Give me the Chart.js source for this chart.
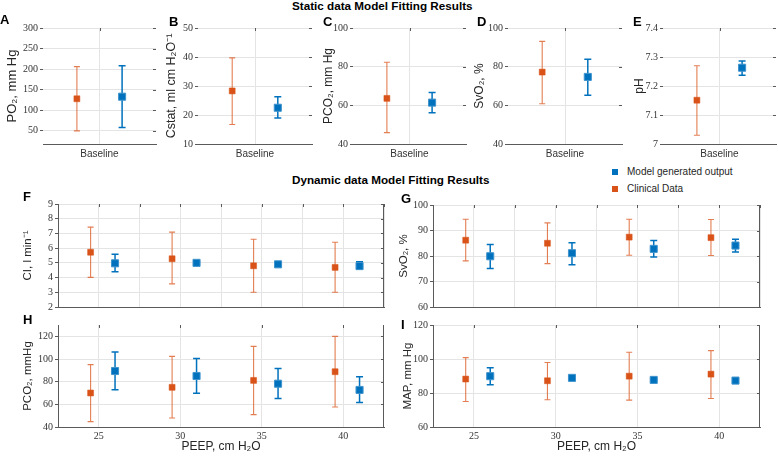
<!DOCTYPE html>
<html>
<head>
<meta charset="utf-8">
<script src="https://cdn.jsdelivr.net/npm/chart.js@4.4.1/dist/chart.umd.min.js"></script>
<style>
  body { margin: 0; width: 778px; height: 456px; position: relative; overflow: hidden; background: #fff;
         font-family: 'Liberation Sans', Arial, sans-serif; color: #000; }
  .box { position: absolute; }
  .txt { position: absolute; line-height: 1; white-space: nowrap; z-index: 2; }
  .head { font-weight: bold; font-size: 11.7px; }
  .letter { font-weight: bold; font-size: 13px; }
  .leg { font-size: 10px; color: #262626; }
  .sq { position: absolute; width: 6px; height: 6px; z-index: 2; }
</style>
</head>
<body>

<div class="txt head" style="left:292px; top:0px">Static data Model Fitting Results</div>
<div class="txt head" style="left:292px; top:174px">Dynamic data Model Fitting Results</div>

<div class="txt letter" style="left:0px; top:12.5px">A</div>
<div class="txt letter" style="left:169px; top:15px">B</div>
<div class="txt letter" style="left:323px; top:15px">C</div>
<div class="txt letter" style="left:477px; top:15px">D</div>
<div class="txt letter" style="left:633px; top:15px">E</div>
<div class="txt letter" style="left:23px; top:190px">F</div>
<div class="txt letter" style="left:401px; top:192px">G</div>
<div class="txt letter" style="left:23px; top:313px">H</div>
<div class="txt letter" style="left:401px; top:317.5px">I</div>

<div class="sq" style="left:612px; top:168.5px; background:#0072BD"></div>
<div class="txt leg" style="left:627px; top:167px">Model generated output</div>
<div class="sq" style="left:612px; top:186px; background:#D95319"></div>
<div class="txt leg" style="left:627px; top:184px">Clinical Data</div>

<script>
// ---- data ----
const baselineLabel = ['Baseline'];
const baselineTick = [1];
const clinicalBaseX = [0.8];
const modelBaseX = [1.2];

// A: PO2
const po2Clinical = [128], po2ClinicalLo = [50], po2ClinicalHi = [206];
const po2Model = [133], po2ModelLo = [58], po2ModelHi = [208];
const po2Ticks = [50, 100, 150, 200, 250, 300];
// B: Cstat
const cstatClinical = [28.3], cstatClinicalLo = [16.7], cstatClinicalHi = [39.7];
const cstatModel = [22.5], cstatModelLo = [19.0], cstatModelHi = [26.3];
const cstatTicks = [10, 20, 30, 40, 50];
// C: PCO2 (static)
const pco2sClinical = [63.6], pco2sClinicalLo = [45.9], pco2sClinicalHi = [82.3];
const pco2sModel = [61.4], pco2sModelLo = [56.2], pco2sModelHi = [66.7];
const pco2sTicks = [40, 60, 80, 100];
// D: SvO2 (static)
const svo2sClinical = [77.2], svo2sClinicalLo = [60.8], svo2sClinicalHi = [93.1];
const svo2sModel = [74.7], svo2sModelLo = [65.2], svo2sModelHi = [83.8];
const svo2sTicks = [40, 60, 80, 100];
// E: pH
const phClinical = [7.151], phClinicalLo = [7.03], phClinicalHi = [7.27];
const phModel = [7.263], phModelLo = [7.237], phModelHi = [7.286];
const phTicks = [7, 7.1, 7.2, 7.3, 7.4];

// dynamic panels, PEEP steps
const peepTicks = [25, 30, 35, 40];
const peepGrid = [22.5, 25, 27.5, 30, 32.5, 35, 37.5, 40, 42.5];
const clinicalPeep = [24.5, 29.5, 34.5, 39.5];
const modelPeep = [26, 31, 36, 41];

// F: CI
const ciClinical = [5.72, 5.28, 4.80, 4.69];
const ciClinicalLo = [4.01, 3.57, 3.00, 3.00];
const ciClinicalHi = [7.43, 7.09, 6.60, 6.40];
const ciModel = [4.97, 5.00, 4.90, 4.78];
const ciModelLo = [4.39, 4.95, 4.84, 4.60];
const ciModelHi = [5.58, 5.05, 4.96, 5.08];
const ciTicks = [2, 3, 4, 5, 6, 7, 8, 9];
// G: SvO2
const svo2Clinical = [86.2, 85.0, 87.4, 87.2];
const svo2ClinicalLo = [78.1, 77.0, 80.3, 80.2];
const svo2ClinicalHi = [94.4, 93.0, 94.4, 94.3];
const svo2Model = [79.9, 81.1, 82.8, 84.1];
const svo2ModelLo = [75.1, 76.6, 79.6, 81.6];
const svo2ModelHi = [84.5, 85.2, 86.1, 86.6];
const svo2Ticks = [60, 70, 80, 90, 100];
// H: PCO2
const pco2Clinical = [70.0, 75.0, 81.1, 88.8];
const pco2ClinicalLo = [44.7, 48.0, 50.9, 57.7];
const pco2ClinicalHi = [95.0, 102.3, 111.1, 120.0];
const pco2Model = [89.4, 85.0, 78.2, 72.7];
const pco2ModelLo = [72.9, 69.7, 65.2, 61.7];
const pco2ModelHi = [106.2, 100.5, 91.7, 84.4];
const pco2Ticks = [40, 60, 80, 100, 120];
// I: MAP
const mapClinical = [88.2, 87.2, 89.9, 91.1];
const mapClinicalLo = [75.0, 76.0, 75.8, 76.8];
const mapClinicalHi = [100.8, 97.9, 104.0, 104.9];
const mapModel = [89.9, 88.9, 87.7, 87.3];
const mapModelLo = [84.8, 88.4, 87.2, 86.8];
const mapModelHi = [94.8, 89.4, 88.2, 87.8];
const mapTicks = [60, 80, 100, 120];

// ---- styling ----
const serif = "'Liberation Serif', 'Times New Roman', serif";
const sans = "'Liberation Sans', Arial, sans-serif";
const orange = '#D95319';
const blue = '#0072BD';
const gridColor = '#e4e4e4';
const axisColor = '#5a5a5a';

// vertical error bars with caps, drawn under each dataset's markers
const errorBars = {
  id: 'errorBars',
  beforeDatasetDraw(chart, args) {
    const ds = chart.data.datasets[args.index];
    if (!ds.lo) return;
    const y = chart.scales.y;
    const ctx = chart.ctx;
    ctx.save();
    ctx.strokeStyle = ds.barColor;
    ctx.lineWidth = ds.barWidth;
    args.meta.data.forEach(function (pt, i) {
      const hiPx = y.getPixelForValue(ds.hi[i]);
      const loPx = y.getPixelForValue(ds.lo[i]);
      const c = ds.cap;
      ctx.beginPath();
      ctx.moveTo(pt.x, hiPx); ctx.lineTo(pt.x, loPx);
      ctx.moveTo(pt.x - c, hiPx); ctx.lineTo(pt.x + c, hiPx);
      ctx.moveTo(pt.x - c, loPx); ctx.lineTo(pt.x + c, loPx);
      ctx.stroke();
    });
    ctx.restore();
  }
};

// little inward ticks on the right and top edges, and the right box line
const edgeTicks = {
  id: 'edgeTicks',
  afterDraw(chart, args, opts) {
    const a = chart.chartArea;
    const x = chart.scales.x, y = chart.scales.y;
    const ctx = chart.ctx;
    ctx.save();
    ctx.strokeStyle = axisColor;
    ctx.lineWidth = 1;
    ctx.beginPath();
    y.ticks.forEach(function (t) {
      const p = Math.round(y.getPixelForValue(t.value)) + 0.5;
      ctx.moveTo(a.right, p); ctx.lineTo(a.right - 3, p);
    });
    x.ticks.forEach(function (t) {
      const p = Math.round(x.getPixelForValue(t.value)) + 0.5;
      ctx.moveTo(p, a.top); ctx.lineTo(p, a.top + 3);
    });
    if (opts.box) {
      ctx.moveTo(Math.round(a.right) - 0.5, a.top);
      ctx.lineTo(Math.round(a.right) - 0.5, a.bottom);
    }
    ctx.stroke();
    ctx.restore();
  }
};

function drawPanel(p) {
  const padTop = 10, padRight = 5;
  const div = document.createElement('div');
  div.className = 'box';
  div.style.left = (p.l - p.yw) + 'px';
  div.style.top = (p.t - padTop) + 'px';
  div.style.width = (p.r - p.l + p.yw + padRight) + 'px';
  div.style.height = (p.b - p.t + padTop + p.xh) + 'px';
  const cv = document.createElement('canvas');
  div.appendChild(cv);
  document.body.appendChild(div);

  new Chart(cv, {
    type: 'scatter',
    data: {
      datasets: [{
        label: 'Clinical Data',
        data: p.cx.map(function (x, i) { return { x: x, y: p.c[i] }; }),
        lo: p.cLo, hi: p.cHi,
        barColor: 'rgba(217,83,25,0.75)', barWidth: 1.1, cap: 3,
        pointStyle: 'rect', pointRadius: 4.2,
        backgroundColor: orange, borderColor: orange, borderWidth: 0.5
      }, {
        label: 'Model generated output',
        data: p.mx.map(function (x, i) { return { x: x, y: p.m[i] }; }),
        lo: p.mLo, hi: p.mHi,
        barColor: blue, barWidth: 1.5, cap: 3.5,
        pointStyle: 'rect', pointRadius: 5,
        backgroundColor: blue, borderColor: '#3f93cc', borderWidth: 1
      }]
    },
    options: {
      responsive: true,
      maintainAspectRatio: false,
      animation: false,
      layout: { padding: { top: padTop, right: padRight, left: 0, bottom: 0 } },
      plugins: {
        legend: { display: false },
        tooltip: { enabled: false },
        edgeTicks: { box: p.dyn }
      },
      scales: {
        x: {
          type: 'linear', min: p.xMin, max: p.xMax,
          afterBuildTicks: function (s) { s.ticks = p.xTicks.map(function (v) { return { value: v }; }); },
          afterFit: function (s) { s.height = p.xh; },
          grid: { color: gridColor, drawTicks: false },
          border: { display: true, color: axisColor },
          ticks: {
            display: !!p.xLabels, autoSkip: false, maxRotation: 0, padding: p.dyn ? 3 : 4,
            color: '#333', font: { family: p.dyn ? serif : sans, size: 10 },
            callback: function (v, i) { return p.xLabels ? p.xLabels[i] : ''; }
          },
          title: {
            display: !!p.xTitle, text: p.xTitle, color: '#262626', padding: 0,
            font: { family: sans, size: 12 }
          }
        },
        y: {
          min: p.yMin, max: p.yMax,
          afterBuildTicks: function (s) { s.ticks = p.yTicks.map(function (v) { return { value: v }; }); },
          afterFit: function (s) { s.width = p.yw; },
          grid: { color: gridColor, drawTicks: true, tickLength: 3, tickColor: axisColor },
          border: { display: p.dyn, color: axisColor },
          ticks: {
            padding: 2, color: '#333', font: { family: serif, size: 10 },
            callback: function (v) { return String(v); }
          },
          title: {
            display: true, text: p.yTitle, color: '#262626', padding: 0,
            font: { family: sans, size: p.ts }
          }
        }
      }
    },
    plugins: [errorBars, edgeTicks]
  });
}

const stat = { t: 28, b: 144, xh: 20, xMin: 0.5, xMax: 1.5, xTicks: baselineTick, xLabels: baselineLabel,
               cx: clinicalBaseX, mx: modelBaseX, dyn: false };

drawPanel(Object.assign({}, stat, { l: 43, r: 157, yw: 38, ts: 13, yTitle: 'PO₂, mm Hg',
  yMin: 18, yMax: 300, yTicks: po2Ticks,
  c: po2Clinical, cLo: po2ClinicalLo, cHi: po2ClinicalHi, m: po2Model, mLo: po2ModelLo, mHi: po2ModelHi }));
drawPanel(Object.assign({}, stat, { l: 198, r: 313, yw: 34, ts: 12.5, yTitle: 'Cstat, ml cm H₂O⁻¹',
  yMin: 10, yMax: 50, yTicks: cstatTicks,
  c: cstatClinical, cLo: cstatClinicalLo, cHi: cstatClinicalHi, m: cstatModel, mLo: cstatModelLo, mHi: cstatModelHi }));
drawPanel(Object.assign({}, stat, { l: 353, r: 467, yw: 32, ts: 12, yTitle: 'PCO₂, mm Hg',
  yMin: 40, yMax: 100, yTicks: pco2sTicks,
  c: pco2sClinical, cLo: pco2sClinicalLo, cHi: pco2sClinicalHi, m: pco2sModel, mLo: pco2sModelLo, mHi: pco2sModelHi }));
drawPanel(Object.assign({}, stat, { l: 508, r: 623, yw: 36, ts: 12, yTitle: 'SvO₂, %',
  yMin: 40, yMax: 100, yTicks: svo2sTicks,
  c: svo2sClinical, cLo: svo2sClinicalLo, cHi: svo2sClinicalHi, m: svo2sModel, mLo: svo2sModelLo, mHi: svo2sModelHi }));
drawPanel(Object.assign({}, stat, { l: 663, r: 777, yw: 31, ts: 12, yTitle: 'pH',
  yMin: 7, yMax: 7.4, yTicks: phTicks,
  c: phClinical, cLo: phClinicalLo, cHi: phClinicalHi, m: phModel, mLo: phModelLo, mHi: phModelHi }));

const dynBase = { xMin: 22.5, xMax: 42.5, cx: clinicalPeep, mx: modelPeep, dyn: true, ts: 11.5 };
const upperRow = Object.assign({}, dynBase, { t: 204, b: 307, xh: 8, xTicks: peepGrid, xLabels: null });
const lowerRow = Object.assign({}, dynBase, { t: 325, b: 427, xh: 27, xTicks: peepTicks, xLabels: peepTicks.map(String),
  xTitle: 'PEEP, cm H₂O' });

drawPanel(Object.assign({}, upperRow, { l: 58, r: 385, yw: 37, yTitle: 'CI, l min⁻¹',
  yMin: 2, yMax: 9, yTicks: ciTicks,
  c: ciClinical, cLo: ciClinicalLo, cHi: ciClinicalHi, m: ciModel, mLo: ciModelLo, mHi: ciModelHi }));
drawPanel(Object.assign({}, upperRow, { l: 433, r: 761, t: 205, yw: 36, yTitle: 'SvO₂, %',
  yMin: 60, yMax: 100, yTicks: svo2Ticks,
  c: svo2Clinical, cLo: svo2ClinicalLo, cHi: svo2ClinicalHi, m: svo2Model, mLo: svo2ModelLo, mHi: svo2ModelHi }));
drawPanel(Object.assign({}, lowerRow, { l: 58, r: 385, yw: 37, yTitle: 'PCO₂, mmHg',
  yMin: 40, yMax: 130, yTicks: pco2Ticks,
  c: pco2Clinical, cLo: pco2ClinicalLo, cHi: pco2ClinicalHi, m: pco2Model, mLo: pco2ModelLo, mHi: pco2ModelHi }));
drawPanel(Object.assign({}, lowerRow, { l: 433, r: 761, yw: 32, yTitle: 'MAP, mm Hg',
  yMin: 60, yMax: 120, yTicks: mapTicks,
  c: mapClinical, cLo: mapClinicalLo, cHi: mapClinicalHi, m: mapModel, mLo: mapModelLo, mHi: mapModelHi }));
</script>
</body>
</html>
